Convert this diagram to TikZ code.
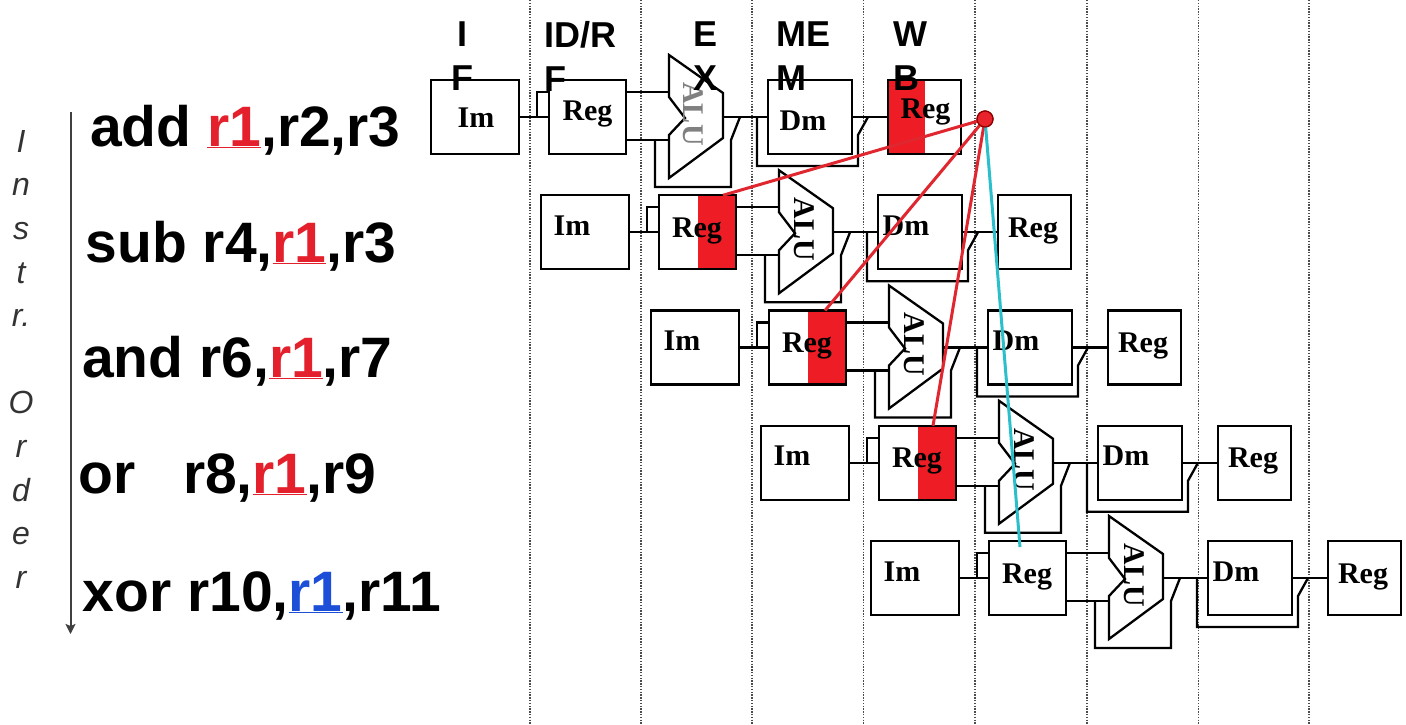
\documentclass[tikz,border=0pt]{standalone}
\usepackage{fontspec}
\setmainfont{Liberation Serif}
\newfontfamily\hvf{Liberation Sans}
\usetikzlibrary{arrows.meta,calc}
\definecolor{hired}{HTML}{EE1D25}
\definecolor{txred}{HTML}{E3202B}
\definecolor{txblue}{HTML}{1C4ED8}
\definecolor{cyanl}{HTML}{2BBFCB}
\definecolor{fwdred}{HTML}{E0262F}
\definecolor{dotred}{HTML}{E8232B}
\newcommand\lblfont{\bfseries\fontsize{30}{32}\selectfont}
\newcommand\hdrfont{\hvf\bfseries\fontsize{36}{44}\selectfont}
\newcommand\insfont{\hvf\bfseries\fontsize{57}{60}\selectfont}
\newcommand\ordfont{\hvf\itshape\fontsize{32}{43.6}\selectfont}
\newcommand\ulw[2]{\textcolor{#1}{\underline{#2}}}
\begin{document}
\begin{tikzpicture}[x=1pt,y=-1pt,
  box/.style={draw, line width=2.3pt, fill=white, inner sep=0pt, outer sep=0pt, anchor=north west, minimum height=74pt},
  wire/.style={line width=2.3pt},
  lab/.style={font=\lblfont, anchor=base, inner sep=0pt},
  gridline/.style={draw=black!70, line width=1.5pt, dash pattern=on 1.4pt off 1.4pt},
  hdr/.style={font=\hdrfont, inner sep=0pt},
  instr/.style={font=\insfont, anchor=base west, inner sep=0pt},
  fwd/.style={line width=3pt, draw=fwdred},
]
\useasboundingbox (0,0) rectangle (1406,724);
\fill[white] (0,0) rectangle (1406,724);
% stage grid
\foreach \gx [count=\gi] in {530,641,752,863.5,975,1087,1198.5,1309}{
  \coordinate (gt\gi) at (\gx,0);
  \coordinate (gb\gi) at (\gx,724);
  \draw[gridline] (gt\gi) -- (gb\gi);
}
% pipeline rows
\foreach \k in {1,...,5}{
  \pgfmathsetmacro\bx{431+110*(\k-1)}
  \pgfmathsetmacro\by{80+115.25*(\k-1)}
  \node[box, minimum width=88pt] (im\k) at (\bx,\by) {};
  \node[box, minimum width=77pt, path picture={\ifnum\k>1 \ifnum\k<5 \fill[hired] (path picture bounding box.north) rectangle (path picture bounding box.south east);\fi\fi}] (reg\k) at (\bx+118,\by) {};
  \node[box, minimum width=84pt] (dm\k) at (\bx+337,\by) {};
  \node[box, minimum width=73pt, path picture={\ifnum\k=1 \fill[hired] (path picture bounding box.north west) rectangle (path picture bounding box.south);\fi}] (wb\k) at (\bx+457,\by) {};
  % ALU
  \draw[wire, fill=white, line join=miter] (\bx+238,\by-25) -- (\bx+292,\by+13) -- (\bx+292,\by+58) -- (\bx+238,\by+98) -- (\bx+238,\by+55) -- (\bx+254,\by+38) -- (\bx+238,\by+17) -- cycle;
  \coordinate (aluin\k) at (\bx+238,\by+12);
  \coordinate (aluinb\k) at (\bx+238,\by+60);
  \coordinate (aluout\k) at (\bx+292,\by+37);
  % wires
  \draw[wire] (im\k.east) -- (reg\k.west);
  \draw[wire] (\bx+106,\by+37) -- (\bx+106,\by+12) -- ($(reg\k.north west)+(0,12)$);
  \draw[wire] ($(reg\k.north east)+(0,12)$) -- (aluin\k);
  \draw[wire] ($(reg\k.north east)+(0,60)$) -- (aluinb\k);
  \draw[wire, line join=miter] (\bx+224,\by+60) -- (\bx+224,\by+107) -- (\bx+300,\by+107) -- (\bx+300,\by+60) -- (\bx+309,\by+37);
  \draw[wire] (aluout\k) -- (dm\k.west);
  \draw[wire, line join=miter] (\bx+326,\by+37) -- (\bx+326,\by+86) -- (\bx+427,\by+86) -- (\bx+427,\by+55) -- (\bx+437,\by+37);
  \draw[wire] (dm\k.east) -- (wb\k.west);
  % labels
  \ifnum\k=1
    \node[lab] (iml\k) at (\bx+45,\by+47) {Im};
    \node[lab] (regl\k) at (\bx+156.5,\by+40) {Reg};
    \node[lab] (dml\k) at (\bx+372,\by+50) {Dm};
    \node[lab] (wbl\k) at (\bx+494.5,\by+38) {Reg};
    \node[lab, anchor=center, rotate=-90, text=black!50] (alul\k) at (\bx+262,\by+34) {ALU};
  \else
    \node[lab] (iml\k) at (\bx+31,\by+40) {Im};
    \node[lab] (regl\k) at (\bx+156,\by+42) {Reg};
    \node[lab] (dml\k) at (\bx+365,\by+40) {Dm};
    \node[lab] (wbl\k) at (\bx+492,\by+42) {Reg};
    \node[lab, anchor=center, rotate=-90] (alul\k) at (\bx+263,\by+34) {ALU};
  \fi
}
% stage headers
\node[hdr, align=center, anchor=north] (hIF) at (462.5,21.5) {I\\F};
\node[hdr, align=left, anchor=north west] (hID) at (544,21.5) {ID/R\\F};
\node[hdr, align=center, anchor=north] (hEX) at (705.5,21.5) {E\\X};
\node[hdr, align=left, anchor=north west] (hME) at (776,21.5) {ME\\M};
\node[hdr, align=left, anchor=north west] (hWB) at (893.5,21.5) {W\\B};
% instructions
\node[instr] (i1) at (90,146) {add \ulw{txred}{r1},r2,r3};
\node[instr] (i2) at (85.5,262) {sub r4,\ulw{txred}{r1},r3};
\node[instr] (i3) at (82,377) {and r6,\ulw{txred}{r1},r7};
\node[instr] (i4) at (78,493) {or\hspace*{32pt} r8,\ulw{txred}{r1},r9};
\node[instr] (i5) at (82.5,611) {xor r10,\ulw{txblue}{r1},r11};
% instruction order axis
\node[font=\ordfont, text=black!80, align=center, anchor=north, inner sep=0pt] (ord) at (21,130) {I\\n\\s\\t\\r.\\[43.6pt]O\\r\\d\\e\\r};
\coordinate (aTop) at (70.5,112);
\coordinate (aBot) at (70.5,634);
\draw[line width=2pt, black!75, -{Stealth[length=10pt,width=10pt,inset=2pt]}] (aTop) -- (aBot);
% forwarding lines
\node[circle, fill=dotred, draw=red!55!black, line width=1.2pt, minimum size=16pt, inner sep=0pt] (dot) at (985,119) {};
\coordinate (e2) at ($(reg2.north)+(25.5,0)$);
\coordinate (e3) at ($(reg3.north)+(17.5,0)$);
\coordinate (e4) at ($(reg4.north)+(15.5,0)$);
\coordinate (e5) at ($(reg5.north)+(-7.5,6)$);
\draw[fwd] (dot.center) -- (e2);
\draw[fwd] (dot.center) -- (e3);
\draw[fwd] (dot.center) -- (e4);
\draw[line width=3pt, draw=cyanl] (dot.center) -- (e5);
\node[circle, fill=dotred, draw=red!55!black, line width=1.2pt, minimum size=16pt, inner sep=0pt] (dot2) at (dot) {};
\end{tikzpicture}
\end{document}
